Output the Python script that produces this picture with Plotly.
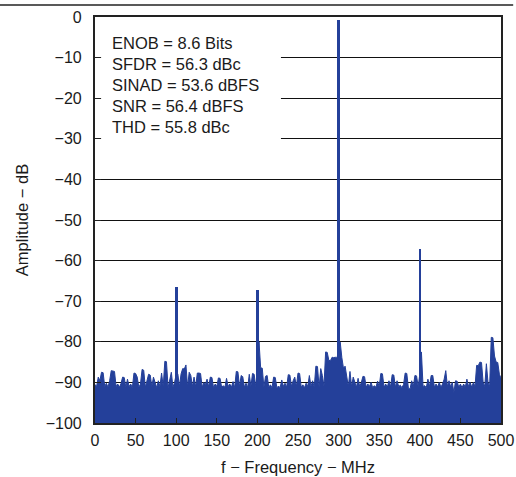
import plotly.graph_objects as go

# Noise-floor spectrum, sampled every 2 MHz (0..500 MHz), values in dB
floor_freq = list(range(0, 502, 2))
floor_db = [
    # 0-18
    -90.5, -91.0, -88.7, -89.6, -87.5, -87.6, -91.0, -90.2, -91.2, -89.6,
    # 20-38
    -87.1, -87.2, -87.3, -91.0, -90.4, -91.2, -90.3, -88.7, -88.8, -91.2,
    # 40-58
    -89.2, -91.0, -90.4, -91.3, -87.7, -87.8, -88.7, -91.2, -90.4, -86.8,
    # 60-78
    -87.0, -91.2, -89.6, -88.0, -88.2, -91.0, -88.7, -90.4, -91.3, -89.6,
    # 80-98
    -91.0, -87.7, -91.0, -84.8, -84.9, -91.3, -89.6, -87.5, -91.2, -90.0,
    # 100-118
    -88.0, -87.9, -91.0, -87.9, -86.6, -86.7, -85.7, -91.1, -87.5, -88.3,
    # 120-138
    -91.0, -88.7, -91.1, -87.7, -87.7, -87.8, -91.2, -90.0, -90.5, -89.2,
    # 140-158
    -91.1, -88.7, -88.8, -91.3, -90.4, -91.0, -88.9, -89.0, -91.2, -90.8,
    # 160-178
    -91.2, -89.0, -91.0, -90.4, -91.2, -89.8, -91.3, -87.3, -87.4, -91.0,
    # 180-198
    -88.3, -88.6, -91.2, -90.2, -91.3, -88.0, -91.0, -87.8, -88.0, -91.0,
    # 200-218
    -88.0, -80.0, -86.4, -86.5, -91.2, -88.5, -88.3, -91.2, -90.6, -91.3,
    # 220-238
    -88.7, -88.8, -91.3, -90.9, -91.3, -89.4, -91.0, -90.2, -91.2, -88.1,
    # 240-258
    -88.2, -91.0, -89.6, -88.7, -91.0, -87.7, -87.8, -91.2, -90.6, -91.3,
    # 260-278
    -90.2, -91.0, -88.3, -91.0, -89.6, -91.2, -86.0, -86.1, -91.2, -86.6,
    # 280-298
    -88.3, -91.0, -82.5, -82.6, -84.6, -84.6, -83.8, -83.9, -83.8, -84.0,
    # 300-318
    -82.0, -80.1, -83.9, -86.5, -86.0, -88.5, -91.0, -87.3, -91.0, -88.7,
    # 320-338
    -90.0, -91.2, -89.0, -91.0, -90.0, -88.5, -88.6, -91.2, -90.4, -91.0,
    # 340-358
    -90.0, -91.3, -90.8, -91.2, -89.7, -91.1, -87.8, -87.9, -91.2, -90.4,
    # 360-378
    -91.2, -89.6, -91.1, -88.1, -88.2, -91.2, -89.6, -91.0, -90.7, -91.3,
    # 380-398
    -90.5, -87.7, -87.8, -91.5, -91.6, -89.6, -91.0, -88.3, -88.4, -91.0,
    # 400-418
    -88.0, -82.5, -91.0, -90.8, -91.3, -89.2, -91.0, -88.3, -88.3, -91.2,
    # 420-438
    -90.4, -91.1, -90.0, -91.2, -90.4, -89.2, -87.1, -91.0, -89.6, -91.1,
    # 440-458
    -90.0, -92.5, -89.6, -89.7, -91.2, -90.4, -91.3, -90.4, -91.2, -89.2,
    # 460-478
    -91.0, -90.0, -91.2, -90.0, -91.0, -85.8, -85.9, -85.0, -85.1, -90.0,
    # 480-498
    -91.0, -85.4, -90.0, -91.0, -78.9, -79.0, -83.5, -85.0, -85.1, -88.0,
    # 500
    -89.0,
]

# Fundamental and harmonic tones
tone_freq = [100, 200, 300, 400]
tone_db = [-66.6, -67.3, -0.8, -57.2]

stats_lines = [
    "ENOB = 8.6 Bits",
    "SFDR = 56.3 dBc",
    "SINAD = 53.6 dBFS",
    "SNR = 56.4 dBFS",
    "THD = 55.8 dBc",
]

x_ticks = list(range(0, 501, 50))
y_ticks = list(range(-100, 1, 10))
y_min, y_max = -100, 0

BLUE = "#24409a"
FONT = "Liberation Sans, Arial, Helvetica, sans-serif"
INK = "#1a1a1a"

fig = go.Figure()

# baseline at the axis bottom for the fill
fig.add_trace(go.Scatter(x=[floor_freq[0], floor_freq[-1]], y=[y_min, y_min],
                         mode="lines", line=dict(width=0, color=BLUE),
                         hoverinfo="skip", showlegend=False))
fig.add_trace(go.Scatter(x=floor_freq, y=floor_db, mode="lines",
                         line=dict(color=BLUE, width=1),
                         fill="tonexty", fillcolor=BLUE, showlegend=False))
fig.add_trace(go.Bar(x=tone_freq, y=[v - y_min for v in tone_db], base=y_min,
                     width=3.2, marker=dict(color=BLUE, line=dict(width=0)),
                     showlegend=False))

# white box behind statistics text
fig.add_shape(type="rect", xref="x", yref="y", x0=7.5, x1=229, y0=-34, y1=-0.6,
              fillcolor="white", line=dict(width=0), layer="above")

stat_y = [-6.35, -11.55, -16.7, -21.9, -27.05]
for txt, yy in zip(stats_lines, stat_y):
    fig.add_annotation(x=19, y=yy, xref="x", yref="y", text=txt,
                       showarrow=False, xanchor="left", yanchor="middle",
                       font=dict(family=FONT, size=16.5, color=INK))

# top rule line
fig.add_shape(type="line", xref="paper", yref="paper",
              x0=-0.234, x1=1.03, y0=1.0296, y1=1.0296,
              line=dict(color="#222", width=1.5))

fig.update_layout(
    width=516, height=477,
    margin=dict(l=95, r=15, t=17, b=54, autoexpand=False),
    paper_bgcolor="white", plot_bgcolor="white",
    bargap=0,
    font=dict(family=FONT, size=16, color=INK),
    xaxis=dict(range=[0, 500], tickvals=x_ticks, ticks="inside", ticklen=5,
               tickcolor="#222", tickwidth=1.2, automargin=False,
               showline=True, mirror=True, linecolor="#222", linewidth=2.2,
               showgrid=False, zeroline=False, ticklabelstandoff=2,
               tickfont=dict(size=16),
               title=dict(text="f − Frequency − MHz", standoff=13,
                          font=dict(size=16.5))),
    yaxis=dict(range=[y_min, y_max], tickvals=y_ticks, ticks="inside", ticklen=6,
               tickcolor="#222", tickwidth=1.2, automargin=False,
               showline=True, mirror=True, linecolor="#222", linewidth=2.2,
               showgrid=True, gridcolor="#111", gridwidth=1.1, zeroline=False,
               ticklabelstandoff=8, tickfont=dict(size=16),
               title=dict(text="Amplitude − dB", standoff=13,
                          font=dict(size=16.5))),
)

fig.write_html(
    "out.html",
    config={"displayModeBar": False},
    post_script="document.body.style.margin='0';document.body.style.overflow='hidden';",
)
